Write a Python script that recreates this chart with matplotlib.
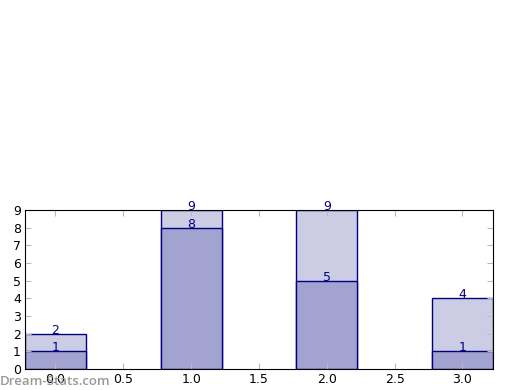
import matplotlib.pyplot as plt
import numpy as np

x = np.array([0, 1, 2, 3])
back = [2, 9, 9, 4]
front = [1, 8, 5, 1]
xticks = [0.0, 0.5, 1.0, 1.5, 2.0, 2.5, 3.0]

fig = plt.figure(figsize=(5.2, 3.9), dpi=100)
ax = fig.add_axes([0.048, 0.054, 0.9, 0.408])

w = 0.45
ax.bar(x, back, width=w, color='#ccccе5'.replace('е', 'e'), edgecolor='navy', linewidth=1)
ax.bar(x, front, width=w, color='#a3a3d1', edgecolor='navy', linewidth=1)
for xi, b, f in zip(x, back, front):
    ax.text(xi, b, str(b), ha='center', va='baseline', color='navy', fontsize=9)
    ax.text(xi, f, str(f), ha='center', va='baseline', color='navy', fontsize=9)

ax.set_xlim(-0.225, 3.225)
ax.set_ylim(0, 9)
ax.set_xticks(xticks)
ax.set_xticklabels(['%.1f' % t for t in xticks])
ax.set_yticks(range(10))
ax.tick_params(direction='in', length=4, color='#bbbbbb', labelsize=9, pad=3)
ax.tick_params(axis='y', right=True)
ax.tick_params(axis='x', top=True)

fig.text(0.0, 0.013, 'Dream-Stats.com', color='#999999', fontsize=9.5,
         family='Open Sans', fontweight='semibold', va='baseline')

plt.savefig('out.png')
